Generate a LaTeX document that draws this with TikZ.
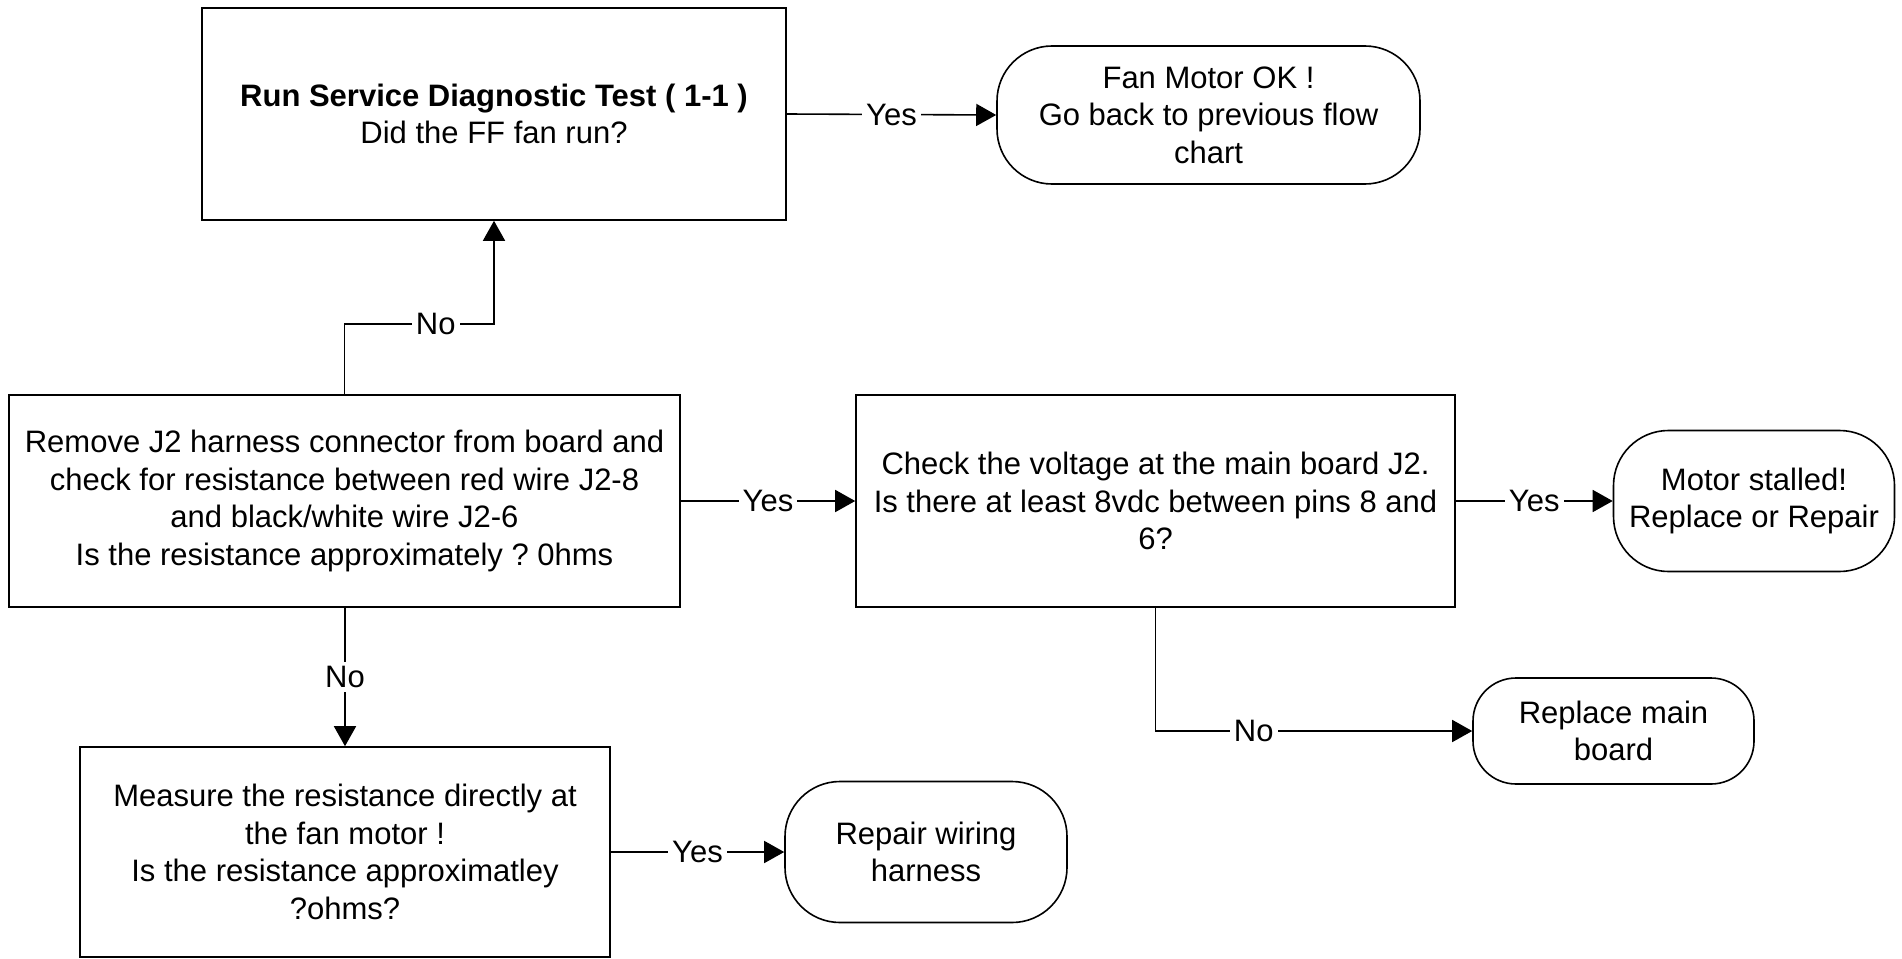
\documentclass[tikz,border=0pt]{standalone}
\usepackage{fontspec}
\setmainfont{Liberation Sans}
\usetikzlibrary{arrows.meta}
\frenchspacing

\tikzset{
  txt/.style={font=\fontsize{31pt}{37.5pt}\selectfont, align=center, text=black},
  proc/.style={txt, draw=black, line width=1.6pt, rectangle, inner sep=0pt},
  term/.style={txt, draw=black, line width=1.6pt, rectangle, rounded corners=55pt, inner sep=0pt},
  flow/.style={draw=black, line width=1.6pt, -{Triangle[length=20pt,width=22pt]}},
  lbl/.style={txt, fill=white, inner sep=4pt},
}

\begin{document}
\begin{tikzpicture}[x=1pt,y=1pt]
  % canvas
  \fill[white] (0,0) rectangle (1902,-958);
  \useasboundingbox (0,0) rectangle (1902,-958);

  % process boxes
  \node[proc, minimum width=584pt, minimum height=212pt] (run) at (494,-114)
    {\textbf{Run Service Diagnostic Test ( 1-1 )}\\Did the FF fan run?};
  \node[proc, minimum width=671pt, minimum height=212pt] (remove) at (344.5,-501)
    {Remove J2 harness connector from board and\\check for resistance between red wire J2-8\\and black/white wire J2-6\\Is the resistance approximately ? 0hms};
  \node[proc, minimum width=599pt, minimum height=212pt] (check) at (1155.5,-501)
    {Check the voltage at the main board J2.\\Is there at least 8vdc between pins 8 and\\6?};
  \node[proc, minimum width=530pt, minimum height=210pt] (measure) at (345,-852)
    {Measure the resistance directly at\\the fan motor !\\Is the resistance approximatley\\?ohms?};

  % terminators
  \node[term, minimum width=423pt, minimum height=138pt] (fanok) at (1208.5,-115)
    {Fan Motor OK !\\Go back to previous flow\\chart};
  \node[term, minimum width=281pt, minimum height=141pt] (stalled) at (1754,-501)
    {Motor stalled!\\Replace or Repair};
  \node[term, rounded corners=43pt, minimum width=281pt, minimum height=106pt] (mainbd) at (1613.5,-731)
    {Replace main\\board};
  \node[term, minimum width=282pt, minimum height=141pt] (wiring) at (926,-852)
    {Repair wiring\\harness};

  % connectors
  \draw[flow] (run.east) -- node[lbl]{Yes} (fanok.west);
  \draw[flow] (remove.north) -- ++(0,70) coordinate (k1)
    -- node[lbl, pos=0.61]{No} (k1 -| run.south) -- (run.south);
  \draw[flow] (remove.east) -- node[lbl]{Yes} (check.west);
  \draw[flow] (remove.south -| measure.north) -- node[lbl]{No} (measure.north);
  \draw[flow] (check.east) -- node[lbl]{Yes} (stalled.west);
  \draw[flow] (check.south) |- node[lbl, pos=0.655]{No} (mainbd.west);
  \draw[flow] (measure.east) -- node[lbl]{Yes} (wiring.west);
\end{tikzpicture}
\end{document}
